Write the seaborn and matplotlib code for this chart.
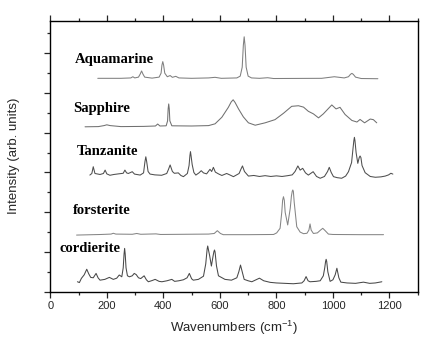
import numpy as np
import pandas as pd
import seaborn as sns
import matplotlib.pyplot as plt
from matplotlib.ticker import MultipleLocator, NullFormatter

# spectra: wavenumber (cm-1) and stacked intensity
aquamarine_x = [168, 250, 285, 292, 299, 312, 318, 323, 328, 334, 360, 385, 392, 395, 398, 401, 405, 414,
                424, 432, 444, 455, 500, 560, 583, 605, 660, 672, 679, 683, 686, 689, 693, 700, 712, 740,
                769, 790, 960, 1005, 1040, 1055, 1062, 1067, 1072, 1080, 1100, 1159]
aquamarine_y = [10.74, 10.74, 10.76, 10.82, 10.76, 10.80, 10.95, 11.11, 10.95, 10.80, 10.75, 10.80, 11.0,
                11.4, 11.58, 11.4, 11.0, 10.82, 10.88, 10.79, 10.84, 10.76, 10.74, 10.76, 10.79, 10.74,
                10.76, 10.85, 11.3, 12.4, 12.83, 12.4, 11.3, 10.85, 10.76, 10.74, 10.77, 10.73, 10.74,
                10.82, 10.76, 10.82, 10.94, 10.99, 10.94, 10.8, 10.73, 10.72]

sapphire_x = [123, 170, 190, 200, 212, 250, 330, 372, 380, 388, 410, 415, 417, 419, 421, 423, 430, 500,
              560, 583, 607, 630, 640, 647, 654, 666, 683, 701, 725, 760, 795, 825, 854, 878, 896, 913,
              931, 949, 966, 996, 1011, 1025, 1043, 1067, 1085, 1096, 1112, 1132, 1143, 1155]
sapphire_y = [8.30, 8.31, 8.36, 8.40, 8.36, 8.31, 8.32, 8.34, 8.44, 8.34, 8.35, 8.6, 9.2, 9.45, 9.2, 8.6,
              8.35, 8.34, 8.36, 8.45, 8.78, 9.28, 9.55, 9.66, 9.52, 9.20, 8.80, 8.50, 8.38, 8.50, 8.66,
              8.98, 9.33, 9.36, 9.29, 9.08, 8.95, 8.75, 8.95, 9.40, 9.20, 9.28, 8.92, 8.62, 8.54, 8.67,
              8.50, 8.69, 8.66, 8.50]

tanzanite_x = [140, 147, 152, 158, 176, 188, 194, 200, 211, 225, 241, 258, 264, 270, 276, 284, 290, 298,
               318, 330, 335, 338, 341, 346, 353, 370, 394, 412, 418, 424, 432, 439, 453, 462, 471, 485,
               491, 494, 496, 498, 502, 508, 515, 526, 534, 542, 553, 565, 571, 577, 584, 595, 607, 624,
               635, 648, 668, 674, 680, 687, 701, 720, 740, 760, 780, 800, 820, 840, 856, 866, 876, 884,
               893, 903, 913, 930, 942, 955, 970, 981, 987, 994, 1002, 1015, 1031, 1045, 1055, 1066,
               1071, 1074, 1076, 1078, 1082, 1088, 1093, 1096, 1099, 1103, 1114, 1132, 1150, 1170, 1185,
               1197, 1205, 1212]
tanzanite_y = [5.87, 5.95, 6.29, 5.95, 5.90, 5.95, 6.12, 5.93, 5.86, 5.90, 5.93, 5.96, 6.12, 5.98, 5.95,
               6.00, 6.04, 5.92, 5.87, 5.98, 6.55, 6.79, 6.55, 6.05, 5.92, 5.88, 5.86, 5.95, 6.15, 6.38,
               6.05, 5.96, 5.98, 5.85, 5.79, 5.95, 6.35, 6.85, 7.05, 6.85, 6.40, 6.00, 5.87, 5.98, 6.09,
               5.98, 5.93, 6.16, 6.05, 6.26, 6.02, 5.93, 5.85, 5.95, 5.88, 5.79, 5.95, 6.15, 6.33, 6.05,
               5.82, 5.85, 5.80, 5.84, 5.80, 5.83, 5.80, 5.84, 5.88, 6.05, 6.33, 6.12, 6.21, 5.98, 5.87,
               6.04, 5.80, 5.71, 5.80, 6.05, 6.26, 6.00, 5.79, 5.74, 5.71, 5.82, 6.04, 6.50, 7.20, 7.6,
               7.77, 7.6, 7.00, 6.46, 6.75, 6.83, 6.75, 6.35, 5.99, 5.80, 5.76, 5.78, 5.82, 5.88, 5.96,
               5.92]

forsterite_x = [93, 180, 215, 223, 232, 290, 306, 320, 374, 390, 560, 580, 591, 602, 612, 700, 790, 801,
                813, 819, 822, 825, 828, 831, 840, 849, 853, 856, 858, 860, 863, 872, 884, 896, 908, 915,
                919, 923, 931, 945, 956, 964, 972, 984, 1000, 1100, 1179]
forsterite_y = [2.85, 2.88, 2.90, 2.94, 2.90, 2.89, 2.93, 2.89, 2.91, 2.88, 2.90, 2.93, 3.07, 2.93, 2.87,
                2.87, 2.88, 2.96, 3.19, 4.0, 4.6, 4.78, 4.6, 4.0, 3.36, 4.2, 4.8, 5.05, 5.12, 5.05, 4.5,
                3.27, 3.0, 2.92, 2.94, 3.1, 3.41, 3.1, 2.93, 2.96, 3.1, 3.19, 3.08, 2.90, 2.88, 2.87, 2.87]

cordierite_x = [96, 103, 110, 120, 129, 136, 143, 152, 162, 169, 176, 193, 209, 223, 235, 244, 253, 258,
                261, 263, 265, 268, 273, 280, 290, 297, 304, 312, 320, 332, 340, 347, 360, 371, 385, 395,
                413, 430, 440, 455, 471, 484, 492, 500, 506, 524, 542, 550, 555, 557, 559, 564, 570, 576,
                579, 581, 583, 588, 595, 618, 641, 660, 667, 673, 680, 686, 700, 713, 725, 740, 755, 778,
                800, 830, 860, 890, 898, 905, 912, 919, 940, 955, 966, 971, 974, 976, 978, 982, 990, 1000,
                1008, 1014, 1021, 1028, 1050, 1080, 1108, 1130, 1150, 1173]
cordierite_y = [0.50, 0.46, 0.67, 0.85, 1.13, 0.90, 0.72, 0.70, 0.92, 0.70, 0.58, 0.62, 0.72, 0.62, 0.68,
                0.84, 0.75, 1.2, 1.9, 2.18, 1.9, 1.2, 0.80, 0.75, 0.80, 0.92, 0.86, 0.70, 0.66, 0.80, 0.60,
                0.50, 0.56, 0.62, 0.52, 0.50, 0.55, 0.62, 0.52, 0.55, 0.60, 0.70, 0.92, 0.65, 0.58, 0.62,
                0.78, 1.4, 2.15, 2.30, 2.15, 1.8, 1.29, 1.8, 2.02, 2.10, 2.0, 1.3, 0.80, 0.62, 0.58, 0.70,
                1.0, 1.34, 0.95, 0.62, 0.55, 0.50, 0.58, 0.68, 0.55, 0.47, 0.44, 0.42, 0.40, 0.44, 0.55,
                0.76, 0.55, 0.50, 0.52, 0.55, 0.80, 1.2, 1.52, 1.63, 1.52, 1.0, 0.52, 0.60, 0.85, 1.18,
                0.7, 0.48, 0.44, 0.42, 0.48, 0.42, 0.44, 0.50]

samples = ['Aquamarine', 'Sapphire', 'Tanzanite', 'forsterite', 'cordierite']
label_pos = {'Aquamarine': (87, 11.71), 'Sapphire': (80, 9.24), 'Tanzanite': (94, 7.08),
             'forsterite': (80, 4.11), 'cordierite': (34, 2.15)}
colors = {'Aquamarine': '#7f7f7f', 'Sapphire': '#707070', 'Tanzanite': '#4e4e4e',
          'forsterite': '#858585', 'cordierite': '#484848'}

spectra = {
    'Aquamarine': (aquamarine_x, aquamarine_y),
    'Sapphire': (sapphire_x, sapphire_y),
    'Tanzanite': (tanzanite_x, tanzanite_y),
    'forsterite': (forsterite_x, forsterite_y),
    'cordierite': (cordierite_x, cordierite_y),
}
df = pd.concat([pd.DataFrame({'wavenumber': x, 'intensity': y, 'sample': s})
                for s, (x, y) in spectra.items()], ignore_index=True)

sns.set_style('ticks')
plt.rcParams['font.family'] = ['Liberation Sans', 'DejaVu Sans']
plt.rcParams['mathtext.fontset'] = 'custom'
plt.rcParams['mathtext.rm'] = 'Liberation Sans'

fig = plt.figure(figsize=(4.47, 3.48), dpi=100)
ax = fig.add_axes([0.1125, 0.1618, 0.822, 0.7787])

sns.lineplot(data=df, x='wavenumber', y='intensity', hue='sample', palette=colors,
             estimator=None, sort=False, linewidth=0.75, legend=False, ax=ax)

for s in samples:
    ax.text(*label_pos[s], s, family=['Liberation Serif'], fontweight='bold', fontsize=10.5,
            va='center', ha='left', color='black')

ax.set_xlim(0, 1300)
ax.set_ylim(0, 13.64)
ax.xaxis.set_major_locator(MultipleLocator(200))
ax.xaxis.set_minor_locator(MultipleLocator(100))
ax.yaxis.set_major_locator(MultipleLocator(2))
ax.yaxis.set_minor_locator(MultipleLocator(1))
ax.yaxis.set_major_formatter(NullFormatter())
ax.set_xticks([0, 200, 400, 600, 800, 1000, 1200])
ax.tick_params(axis='x', which='major', direction='out', length=4.5, width=0.9, labelsize=8,
               top=True, pad=2)
ax.tick_params(axis='x', which='minor', direction='out', length=2.5, width=0.9, top=True)
ax.tick_params(axis='y', which='major', direction='out', length=4.5, width=0.9, right=False)
ax.tick_params(axis='y', which='minor', direction='out', length=2.5, width=0.9, right=False)
for sp in ax.spines.values():
    sp.set_linewidth(1.0)
    sp.set_color('black')

ax.set_xlabel('Wavenumbers (cm$^{-1}$)', fontsize=9.5, labelpad=6)
ax.set_ylabel('Intensity (arb. units)', fontsize=9.5, labelpad=14)

fig.savefig('out.png', dpi=100, facecolor='white')
